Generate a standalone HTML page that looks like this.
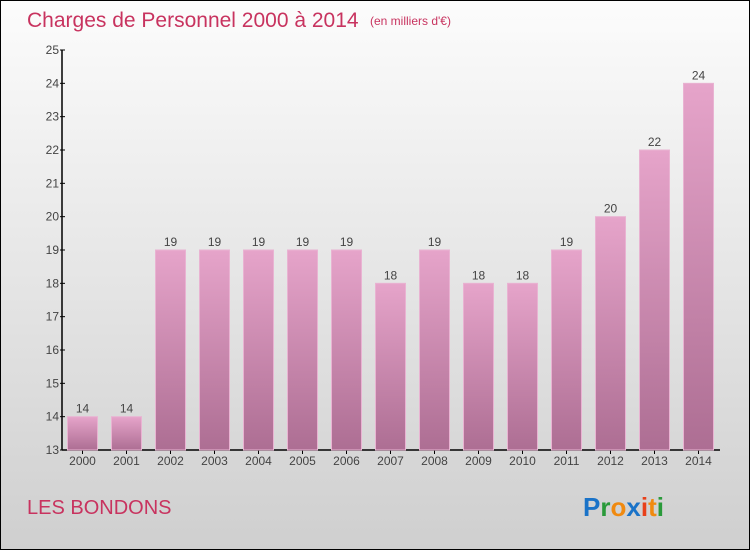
<!DOCTYPE html>
<html><head><meta charset="utf-8"><style>
html,body{margin:0;padding:0}
body{width:750px;height:550px;overflow:hidden;font-family:"Liberation Sans",sans-serif}
#wrap{position:absolute;left:0;top:0;width:748px;height:548px;border:1px solid #000;background:linear-gradient(#fcfcfc,#cfcfcf)}
</style></head><body>
<div id="wrap">
<svg width="748" height="548" viewBox="1 1 748 548" style="position:absolute;left:0;top:0" id="chart">
<defs>
<linearGradient id="bg" x1="0" y1="0" x2="0" y2="1"><stop offset="0" stop-color="#e6a4ca"/><stop offset="1" stop-color="#ad6e93"/></linearGradient>
</defs>
<text x="27" y="27" font-size="21" fill="#c8335f">Charges de Personnel 2000 à 2014</text>
<text x="370" y="25" font-size="12" fill="#c8335f">(en milliers d'€)</text>
<g id="axes"></g>
<g id="bars"></g>
<text x="27" y="514" font-size="20" fill="#c8335f">LES BONDONS</text>
<g font-size="26" font-weight="bold" font-family="'Liberation Sans',sans-serif">
<text x="583" y="516"><tspan fill="#1a73c8">P</tspan><tspan fill="#2a9a3a">r</tspan><tspan fill="#f08a10">o</tspan><tspan fill="#1a73c8">x</tspan><tspan fill="#e8401a">i</tspan><tspan fill="#f08a10">t</tspan><tspan fill="#2a9a3a">i</tspan></text>
</g>
</svg>
</div>
<script>
const categories=["2000","2001","2002","2003","2004","2005","2006","2007","2008","2009","2010","2011","2012","2013","2014"];
const values=[14,14,19,19,19,19,19,18,19,18,18,19,20,22,24];
const yTicks=[13,14,15,16,17,18,19,20,21,22,23,24,25];
const NS="http://www.w3.org/2000/svg";
const yMin=13,yMax=25,top0=50,bot=450,axX=62;
function y(v){return bot-(v-yMin)/(yMax-yMin)*(bot-top0);}
function x(i){return 82.5+i*44;}
function mk(t,a,p){const e=document.createElementNS(NS,t);for(const k in a)e.setAttribute(k,a[k]);p.appendChild(e);return e;}
const axes=document.getElementById('axes'),bars=document.getElementById('bars');
let l=mk('line',{x1:axX,y1:top0,x2:axX,y2:bot,stroke:'#000','stroke-width':1.5},axes);


l=mk('line',{x1:axX,y1:bot,x2:720,y2:bot,stroke:'#000','stroke-width':1.5},axes);


yTicks.forEach(v=>{
 mk('line',{x1:axX-2,y1:y(v),x2:axX+3,y2:y(v),stroke:'#000'},axes);
 const t=mk('text',{x:axX-3,y:y(v)+4,'text-anchor':'end','font-size':12,fill:'#444'},axes);
 t.textContent=v;
 
 
});
categories.forEach((c,i)=>{
 const v=values[i];
 const r=mk('rect',{x:x(i)-15,y:y(v),width:30,height:bot-y(v),fill:'url(#bg)',stroke:'#e9b3d2','stroke-width':1},bars);
 
 
 const t=mk('text',{x:x(i),y:y(v)-4,'text-anchor':'middle','font-size':12,fill:'#444'},bars);
 t.textContent=v;
 
 
 mk('line',{x1:x(i),y1:bot,x2:x(i),y2:bot+4,stroke:'#000'},axes);
 const xl=mk('text',{x:x(i),y:bot+15,'text-anchor':'middle','font-size':12,fill:'#444'},axes);
 xl.textContent=c;
 
 
});
</script>
</body></html>
